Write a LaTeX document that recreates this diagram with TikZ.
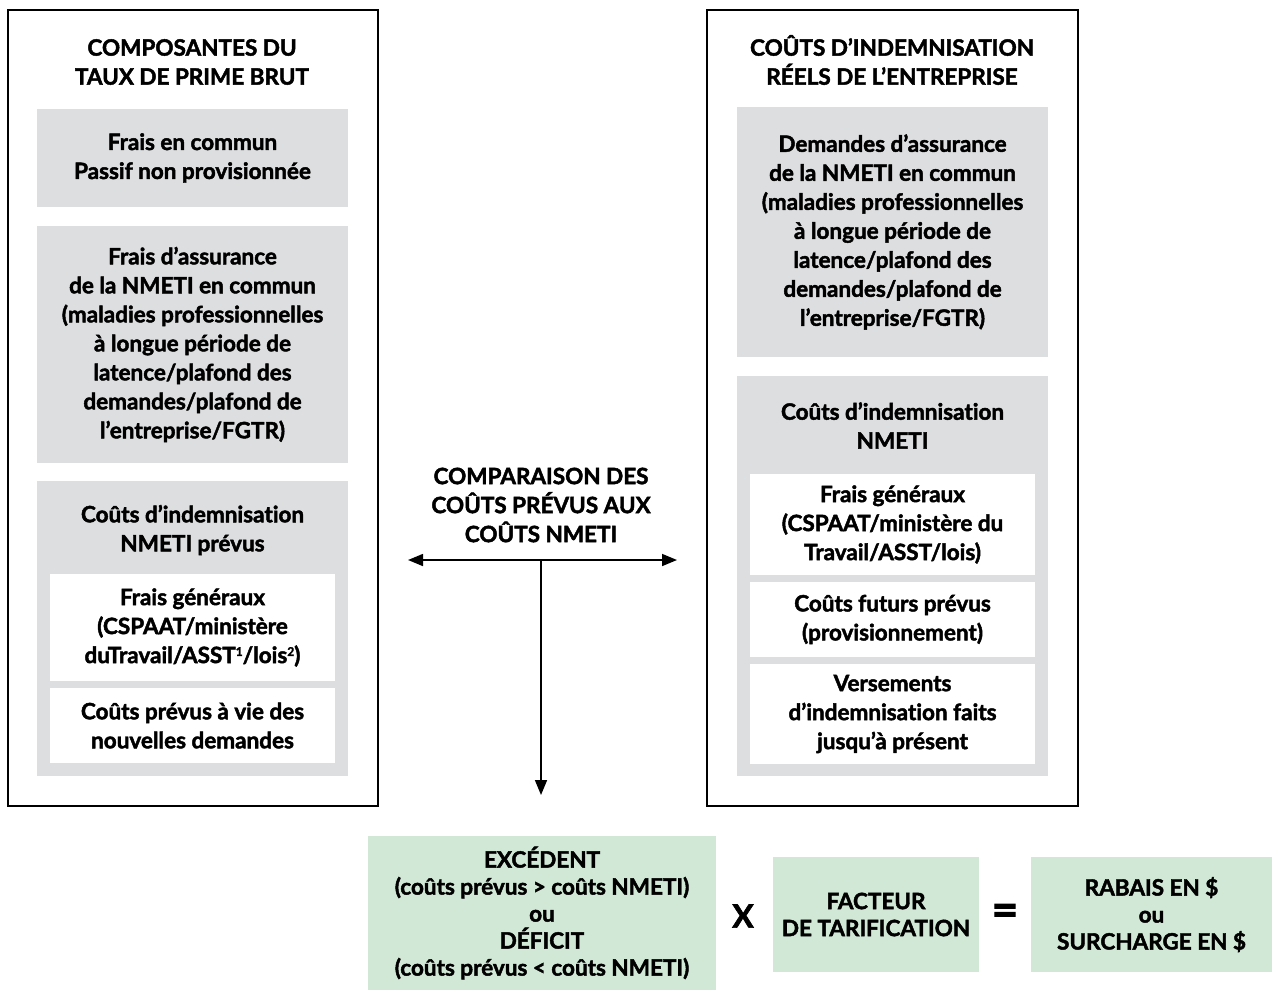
\documentclass[tikz,border=0pt]{standalone}
\usepackage{fontspec}
\setmainfont{Lato}[Ligatures={NoCommon}, BoldFeatures={FakeBold=2}]
\usetikzlibrary{arrows.meta}
\definecolor{boxgray}{RGB}{221,222,224}
\definecolor{boxgreen}{RGB}{208,232,213}
\newcommand{\mainfont}{\fontsize{22.5}{29}\selectfont\bfseries}
\newcommand{\bottomfont}{\fontsize{22.5}{27}\selectfont\bfseries}
\newcommand{\supnum}[1]{\raisebox{0.62ex}{\fontsize{12}{12}\selectfont #1}}
\tikzset{
  outerbox/.style={draw=black, line width=1.6pt, fill=white},
  graybox/.style={fill=boxgray, inner sep=0pt, align=center, font=\mainfont},
  whitebox/.style={fill=white, inner sep=0pt, align=center, font=\mainfont},
  greenbox/.style={fill=boxgreen, inner sep=0pt, align=center, font=\bottomfont},
  titletext/.style={inner sep=0pt, align=center, font=\mainfont},
  optext/.style={inner sep=0pt, font=\fontsize{32}{32}\selectfont\bfseries},
  eqtext/.style={inner sep=0pt, font=\fontsize{46}{46}\selectfont\bfseries},
  conn/.style={line width=1.6pt, -{Triangle[length=15pt,width=12pt]}},
}
\begin{document}
\begin{tikzpicture}[x=1pt,y=-1pt]
\useasboundingbox (0,0) rectangle (1281,991);
% left panel
\node[outerbox, minimum width=370, minimum height=796, inner sep=0pt] (L) at (193,408) {};
\node[titletext] (Ltitle) at (192,62) {COMPOSANTES DU\\TAUX DE PRIME BRUT};
\node[graybox, minimum width=311, minimum height=98] (L1) at (192.5,158) {Frais en commun\\Passif non provisionnée};
\node[graybox, minimum width=311, minimum height=237] (L2) at (192.5,344.5) {Frais d’assurance\\de la NMETI en commun\\(maladies professionnelles\\à longue période de\\latence/plafond des\\demandes/plafond de\\l’entreprise/FGTR)};
\node[graybox, minimum width=311, minimum height=295] (L3) at (192.5,628.5) {};
\node[titletext] (L3title) at (192.5,530) {Coûts d’indemnisation\\NMETI prévus};
\node[whitebox, minimum width=285, minimum height=107] (L3a) at (192.5,627.5) {Frais généraux\\(CSPAAT/ministère\\duTravail/ASST\supnum{1}/lois\supnum{2})};
\node[whitebox, minimum width=285, minimum height=75] (L3b) at (192.5,725.5) {Coûts prévus à vie des\\nouvelles demandes};
% right panel
\node[outerbox, minimum width=371, minimum height=796, inner sep=0pt] (R) at (892.5,408) {};
\node[titletext] (Rtitle) at (892,60) {COÛTS D’INDEMNISATION\\RÉELS DE L’ENTREPRISE};
\node[graybox, minimum width=311, minimum height=250] (R1) at (892.5,232) {Demandes d’assurance\\de la NMETI en commun\\(maladies professionnelles\\à longue période de\\latence/plafond des\\demandes/plafond de\\l’entreprise/FGTR)};
\node[graybox, minimum width=311, minimum height=400] (R2) at (892.5,576) {};
\node[titletext] (R2title) at (892.5,425.5) {Coûts d’indemnisation\\NMETI};
\node[whitebox, minimum width=285, minimum height=101] (R2a) at (892.5,524.5) {Frais généraux\\(CSPAAT/ministère du\\Travail/ASST/lois)};
\node[whitebox, minimum width=285, minimum height=75] (R2b) at (892.5,619.5) {Coûts futurs prévus\\(provisionnement)};
\node[whitebox, minimum width=285, minimum height=100] (R2c) at (892.5,714) {Versements\\d’indemnisation faits\\jusqu’à présent};
% middle
\node[titletext] (M) at (541,505) {COMPARAISON DES\\COÛTS PRÉVUS AUX\\COÛTS NMETI};
\coordinate (aL) at (408,560);
\coordinate (aR) at (677,560);
\coordinate (aC) at (541,560);
\coordinate (aD) at (541,795);
\draw[conn] (aC) -- (aL);
\draw[conn] (aC) -- (aR);
\draw[conn] (aC) -- (aD);
% bottom
\node[greenbox, minimum width=348, minimum height=154] (G1) at (542,913) {EXCÉDENT\\(coûts prévus > coûts NMETI)\\ou\\DÉFICIT\\(coûts prévus < coûts NMETI)};
\node[optext] (times) at (743,916) {X};
\node[greenbox, minimum width=206, minimum height=115] (G2) at (876,914.5) {FACTEUR\\DE TARIFICATION};
\node[eqtext] (eq) at (1005,915) {=};
\node[greenbox, minimum width=241, minimum height=115] (G3) at (1151.5,914.5) {RABAIS EN \$\\ou\\SURCHARGE EN \$};
\end{tikzpicture}
\end{document}
